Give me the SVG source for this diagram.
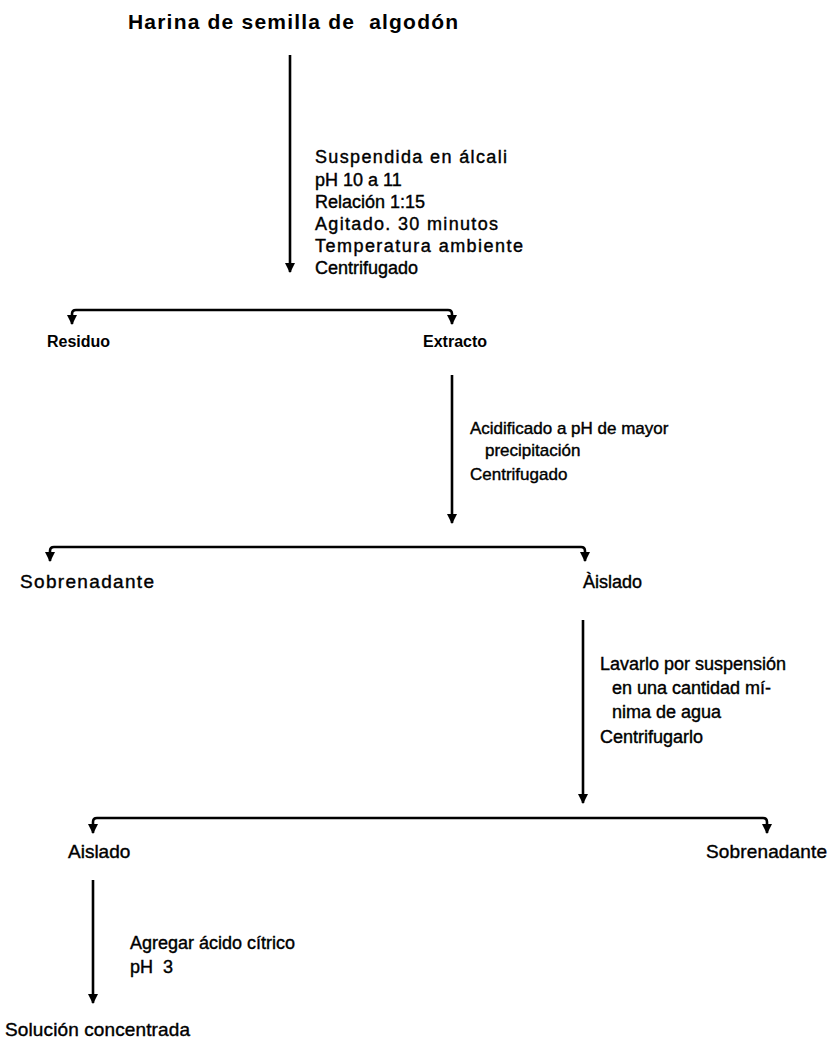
<svg xmlns="http://www.w3.org/2000/svg" width="829" height="1041" viewBox="0 0 829 1041">
<style>
  text { font-family: "Liberation Sans", Arial, sans-serif; fill: #000; white-space: pre; stroke: #000; stroke-width: 0.4px; }
  .title { font-size: 21px; font-weight: bold; letter-spacing: 1.2px; stroke-width: 0; }
  .node { font-size: 19px; }
  .small { font-size: 16px; font-weight: bold; stroke-width: 0; }
  .step { font-size: 18px; }
  .step2 { font-size: 17px; }
  .line { stroke: #000; stroke-width: 2.6; fill: none; }
</style>
<defs>
  <marker id="ah" viewBox="0 0 10 10" refX="9" refY="5" markerWidth="4" markerHeight="4" orient="auto" markerUnits="strokeWidth">
    <path d="M0,0 L10,5 L0,10 z" fill="#000"/>
  </marker>
</defs>
<rect width="829" height="1041" fill="#fff"/>

<g id="connectors">
  <path class="line" d="M290,55 L290,272" marker-end="url(#ah)"/>
  <path class="line" d="M290,310 L76,310 Q72,310 72,314 L72,324" marker-end="url(#ah)"/>
  <path class="line" d="M290,310 L448,310 Q452,310 452,314 L452,324" marker-end="url(#ah)"/>

  <path class="line" d="M452,375 L452,523" marker-end="url(#ah)"/>
  <path class="line" d="M452,547 L54,547 Q50,547 50,551 L50,561" marker-end="url(#ah)"/>
  <path class="line" d="M452,547 L581,547 Q585,547 585,551 L585,561" marker-end="url(#ah)"/>

  <path class="line" d="M583,620 L583,803" marker-end="url(#ah)"/>
  <path class="line" d="M583,818 L97,818 Q93,818 93,822 L93,833" marker-end="url(#ah)"/>
  <path class="line" d="M583,818 L763,818 Q767,818 767,822 L767,833" marker-end="url(#ah)"/>

  <path class="line" d="M93,880 L93,1003" marker-end="url(#ah)"/>
</g>

<g id="harina"><text class="title" x="128" y="29">Harina de semilla de  algodón</text></g>

<g id="step1">
  <text class="step" x="315" y="163" textLength="192" lengthAdjust="spacing">Suspendida en álcali</text>
  <text class="step" x="315" y="186">pH 10 a 11</text>
  <text class="step" x="315" y="208">Relación 1:15</text>
  <text class="step" x="315" y="230" textLength="183" lengthAdjust="spacing">Agitado. 30 minutos</text>
  <text class="step" x="315" y="252" textLength="208" lengthAdjust="spacing">Temperatura ambiente</text>
  <text class="step" x="315" y="274">Centrifugado</text>
</g>

<g id="residuo"><text class="small" x="47" y="347">Residuo</text></g>
<g id="extracto"><text class="small" x="423" y="347">Extracto</text></g>

<g id="step2">
  <text class="step2" x="470" y="434">Acidificado a pH de mayor</text>
  <text class="step2" x="485" y="456">precipitación</text>
  <text class="step2" x="470" y="480">Centrifugado</text>
</g>

<g id="sobrenadante1"><text class="node" x="20" y="588" textLength="134" lengthAdjust="spacing">Sobrenadante</text></g>
<g id="aislado1"><text class="node" x="583" y="588" style="font-size:18px">Àislado</text></g>

<g id="step3">
  <text class="step" x="600" y="670">Lavarlo por suspensión</text>
  <text class="step" x="612" y="694">en una cantidad mí-</text>
  <text class="step" x="612" y="718">nima de agua</text>
  <text class="step" x="600" y="743">Centrifugarlo</text>
</g>

<g id="aislado2"><text class="node" x="68" y="858">Aislado</text></g>
<g id="sobrenadante2"><text class="node" x="706" y="858" textLength="121" lengthAdjust="spacing">Sobrenadante</text></g>

<g id="step4">
  <text class="step" x="130" y="949">Agregar ácido cítrico</text>
  <text class="step" x="130" y="973">pH  3</text>
</g>

<g id="solucion"><text class="node" x="5" y="1036" textLength="185" lengthAdjust="spacing">Solución concentrada</text></g>
</svg>
